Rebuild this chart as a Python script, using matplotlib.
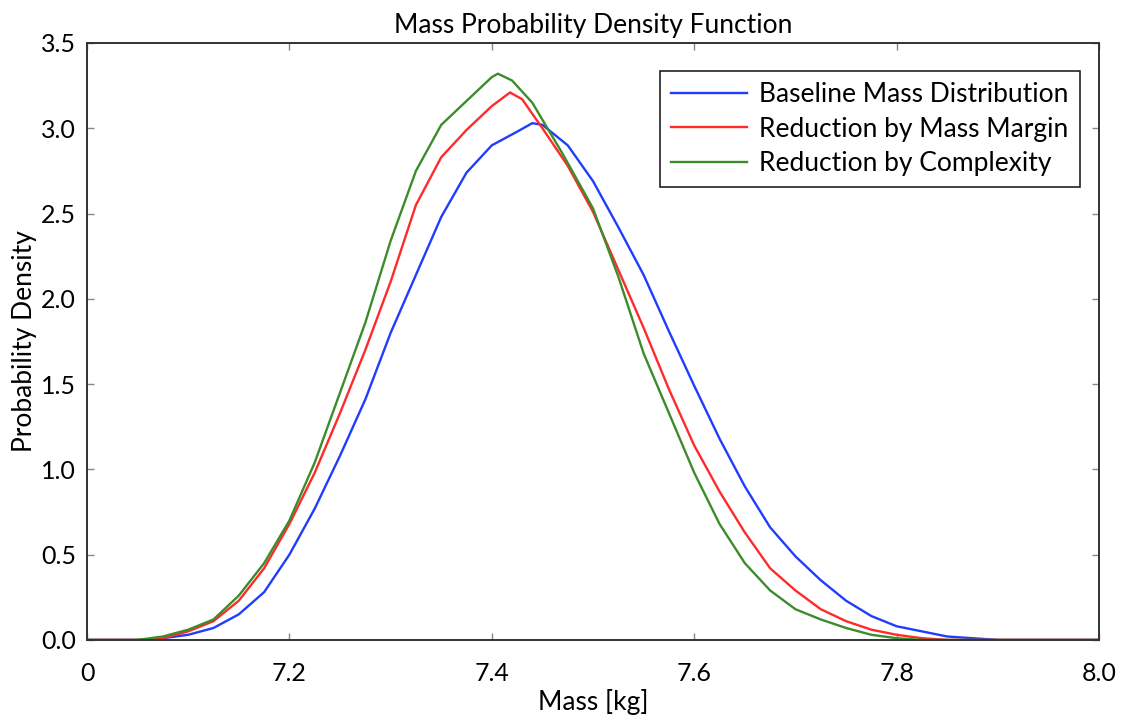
import numpy as np
import matplotlib
matplotlib.use('Agg')
import matplotlib.pyplot as plt

plt.rcParams['font.family'] = ['Lato', 'DejaVu Sans']

# mass [kg] / density values
mass_base = [7.00, 7.05, 7.075, 7.10, 7.125, 7.15, 7.175, 7.20, 7.225, 7.25, 7.275,
             7.30, 7.325, 7.35, 7.375, 7.40, 7.425, 7.44, 7.45, 7.475, 7.50, 7.525,
             7.55, 7.575, 7.60, 7.625, 7.65, 7.675, 7.70, 7.725, 7.75, 7.775, 7.80,
             7.825, 7.85, 7.875, 7.90, 8.00]
dens_base = [0.0, 0.0, 0.01, 0.03, 0.07, 0.15, 0.28, 0.50, 0.77, 1.08, 1.41,
             1.80, 2.14, 2.48, 2.74, 2.90, 2.98, 3.03, 3.02, 2.90, 2.69, 2.42,
             2.14, 1.81, 1.49, 1.18, 0.90, 0.66, 0.49, 0.35, 0.23, 0.14, 0.08,
             0.05, 0.02, 0.01, 0.0, 0.0]

mass_margin = [7.00, 7.05, 7.075, 7.10, 7.125, 7.15, 7.175, 7.20, 7.225, 7.25, 7.275,
               7.30, 7.325, 7.35, 7.375, 7.40, 7.418, 7.43, 7.45, 7.475, 7.50, 7.525,
               7.55, 7.575, 7.60, 7.625, 7.65, 7.675, 7.70, 7.725, 7.75, 7.775, 7.80,
               7.825, 7.85, 8.00]
dens_margin = [0.0, 0.0, 0.01, 0.05, 0.11, 0.23, 0.42, 0.68, 0.98, 1.33, 1.70,
               2.10, 2.55, 2.83, 2.99, 3.13, 3.21, 3.17, 3.00, 2.78, 2.51, 2.17,
               1.83, 1.47, 1.14, 0.87, 0.63, 0.42, 0.29, 0.18, 0.11, 0.06, 0.03,
               0.01, 0.0, 0.0]

mass_complex = [7.00, 7.05, 7.075, 7.10, 7.125, 7.15, 7.175, 7.20, 7.225, 7.25, 7.275,
                7.30, 7.325, 7.35, 7.375, 7.40, 7.406, 7.42, 7.44, 7.47, 7.50, 7.525,
                7.55, 7.575, 7.60, 7.625, 7.65, 7.675, 7.70, 7.725, 7.75, 7.775, 7.80,
                7.825, 8.00]
dens_complex = [0.0, 0.0, 0.02, 0.06, 0.12, 0.26, 0.45, 0.70, 1.04, 1.45, 1.86,
                2.34, 2.75, 3.02, 3.16, 3.30, 3.32, 3.28, 3.15, 2.85, 2.53, 2.13,
                1.68, 1.33, 0.98, 0.68, 0.45, 0.29, 0.18, 0.12, 0.07, 0.03, 0.01,
                0.0, 0.0]

x_ticks = [7.0, 7.2, 7.4, 7.6, 7.8, 8.0]
x_labels = ['0', '7.2', '7.4', '7.6', '7.8', '8.0']
y_ticks = [0.0, 0.5, 1.0, 1.5, 2.0, 2.5, 3.0, 3.5]

fig = plt.figure(figsize=(11.3, 7.19), dpi=100)
ax = fig.add_axes([0.077, 0.110, 0.8956, 0.8302])

ax.plot(mass_base, dens_base, color='#1f3dff', lw=1.7, label='Baseline Mass Distribution')
ax.plot(mass_margin, dens_margin, color='#ff2a2a', lw=1.7, label='Reduction by Mass Margin')
ax.plot(mass_complex, dens_complex, color='#3c8c2c', lw=1.7, label='Reduction by Complexity')

ax.set_xlim(7.0, 8.0)
ax.set_ylim(0, 3.5)
ax.set_xticks(x_ticks)
ax.set_xticklabels(x_labels)
ax.set_yticks(y_ticks)
ax.set_yticklabels(['%.1f' % t for t in y_ticks])
ax.tick_params(direction='in', length=5, width=1, color='#888888',
               top=True, right=True, labelsize=18)
ax.tick_params(axis='x', pad=16)
ax.tick_params(axis='y', pad=8)
for s in ax.spines.values():
    s.set_linewidth(1.4)
    s.set_color('#333333')

ax.set_title('Mass Probability Density Function', fontsize=19, pad=7)
ax.set_xlabel('Mass [kg]', fontsize=19, labelpad=3)
ax.set_ylabel('Probability Density', fontsize=19, labelpad=3)

leg = ax.legend(loc='upper right', bbox_to_anchor=(0.981, 0.953), borderaxespad=0,
                fontsize=19, fancybox=False, framealpha=1, edgecolor='#222222',
                handlelength=2.9, handletextpad=0.45, borderpad=0.42,
                labelspacing=0.36)
leg.get_frame().set_linewidth(1.2)

plt.savefig('out.png', dpi=100)
